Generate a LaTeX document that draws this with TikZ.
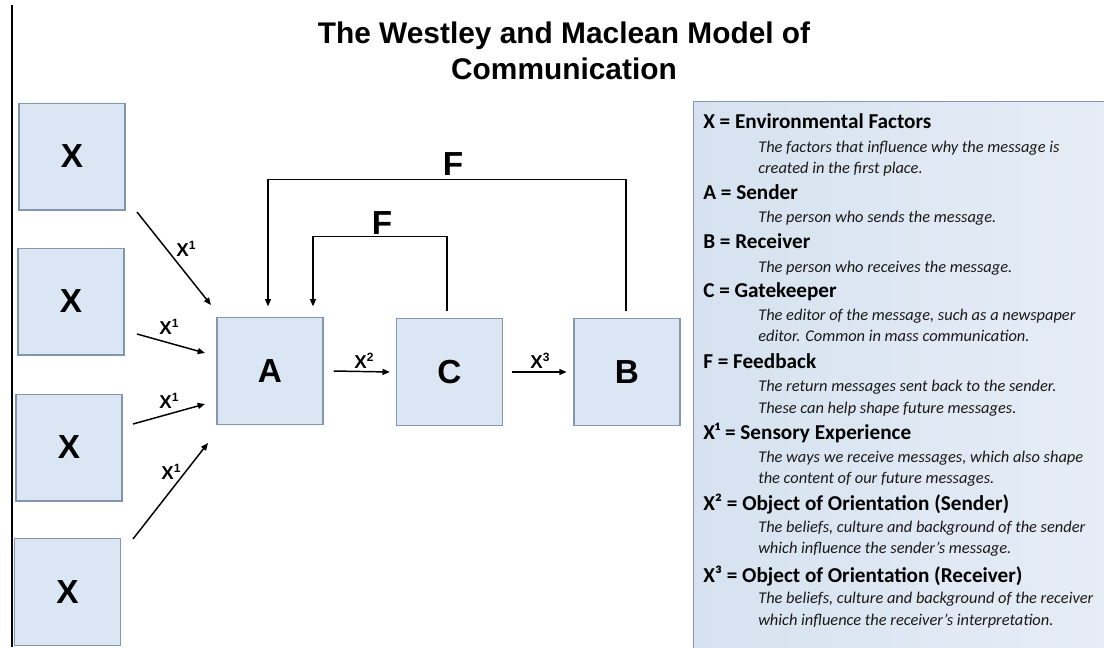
\documentclass[tikz,border=0pt]{standalone}
\usepackage{fontspec}
\setmainfont{Liberation Sans}
\newfontfamily\legfont{Carlito}
\usetikzlibrary{arrows.meta}
\definecolor{boxfill}{HTML}{DAE6F3}
\definecolor{boxline}{HTML}{8496AE}
\definecolor{legleft}{HTML}{D6E2F0}
\definecolor{legright}{HTML}{E6EDF6}
\newcommand{\supnum}[1]{\raisebox{0.75ex}{\fontsize{9}{9}\selectfont #1}}
\begin{document}
\begin{tikzpicture}[x=0.75pt,y=-0.75pt,
  box/.style={draw=boxline, line width=1pt, fill=boxfill, minimum width=79.5pt, minimum height=80pt, inner sep=0pt, font=\fontsize{25}{25}\selectfont\bfseries},
  arr/.style={-{Triangle[length=5.5pt,width=4.5pt]}, line width=1.1pt},
  lbl/.style={font=\fontsize{14}{14}\selectfont\bfseries, inner sep=0pt},
  big/.style={font=\fontsize{25}{25}\selectfont\bfseries, inner sep=0pt},
  hd/.style={anchor=base west, font=\legfont\fontsize{15.9}{16}\selectfont\bfseries, inner sep=0pt},
  it/.style={anchor=base west, font=\legfont\fontsize{12.3}{13}\selectfont\itshape, inner sep=0pt, text=black!90}]
\useasboundingbox (0,0) rectangle (1104,647);
\fill[white] (0,0) rectangle (1104,647);
% left rule
\draw[line width=2pt] (12,5) -- (12,647);
% title
\node[font=\fontsize{22.4}{24}\selectfont\bfseries, anchor=base, inner sep=0pt] (title1) at (564,43) {The Westley and Maclean Model of};
\node[font=\fontsize{22.4}{24}\selectfont\bfseries, anchor=base, inner sep=0pt] (title2) at (564,79) {Communication};
% boxes
\node[box] (x1) at (72,156.5) {X};
\node[box] (x2) at (71,301.5) {X};
\node[box] (x3) at (69,447.5) {X};
\node[box] (x4) at (67.5,592) {X};
\node[box] (A) at (270,371) {A};
\node[box] (C) at (449.5,372) {C};
\node[box] (B) at (627,372) {B};
% X1 arrows
\coordinate (s1) at (137,212); \coordinate (e1) at (211,305);
\coordinate (s2) at (137,334); \coordinate (e2) at (205,353);
\coordinate (s3) at (133,424); \coordinate (e3) at (205,404);
\coordinate (s4) at (133,539); \coordinate (e4) at (208,443);
\draw[arr] (s1) -- (e1);
\draw[arr] (s2) -- (e2);
\draw[arr] (s3) -- (e3);
\draw[arr] (s4) -- (e4);
\node[lbl] (l1) at (186,249) {X\supnum{1}};
\node[lbl] (l2) at (169,327) {X\supnum{1}};
\node[lbl] (l3) at (169,401) {X\supnum{1}};
\node[lbl] (l4) at (171,472) {X\supnum{1}};
% X2, X3
\draw[arr] ([xshift=7.5pt]A.east) -- ([xshift=-4.5pt]C.west);
\draw[arr] ([xshift=6.5pt]C.east) -- ([xshift=-5pt]B.west);
\node[lbl] (l5) at (364,361) {X\supnum{2}};
\node[lbl] (l6) at (540,361) {X\supnum{3}};
% feedback
\draw[arr] ([xshift=-0.75pt,yshift=5pt]B.north) -- ++(0,-132) -| ([xshift=-1.5pt,yshift=8pt]A.north);
\draw[arr] ([xshift=-1.9pt,yshift=5.5pt]C.north) -- ++(0,-74) -| ([xshift=32.25pt,yshift=8pt]A.north);
\node[big] (f1) at (453,164) {F};
\node[big] (f2) at (382,223) {F};
% legend
\node[draw=boxline, line width=1pt, left color=legleft, right color=legright, anchor=north west, minimum width=315pt, minimum height=420pt, inner sep=0pt] (legend) at (693,101) {};
\node[hd] (h1) at (703,128) {X = Environmental Factors};
\node[it] (t1) at (758,152) {The factors that influence why the message is};
\node[it] (t2) at (758,173) {created in the first place.};
\node[hd] (h2) at (703,199) {A = Sender};
\node[it] (t3) at (758,222) {The person who sends the message.};
\node[hd] (h3) at (703,248) {B = Receiver};
\node[it] (t4) at (758,272) {The person who receives the message.};
\node[hd] (h4) at (703,297) {C = Gatekeeper};
\node[it] (t5) at (758,320) {The editor of the message, such as a newspaper};
\node[it] (t6) at (758,341) {editor. Common in mass communication.};
\node[hd] (h5) at (703,368) {F = Feedback};
\node[it] (t7) at (758,391) {The return messages sent back to the sender.};
\node[it] (t8) at (758,413) {These can help shape future messages.};
\node[hd] (h6) at (703,439) {X¹ = Sensory Experience};
\node[it] (t9) at (758,462) {The ways we receive messages, which also shape};
\node[it] (t10) at (758,483) {the content of our future messages.};
\node[hd] (h7) at (703,510) {X² = Object of Orientation (Sender)};
\node[it] (t11) at (758,532) {The beliefs, culture and background of the sender};
\node[it] (t12) at (758,553) {which influence the sender’s message.};
\node[hd] (h8) at (703,582) {X³ = Object of Orientation (Receiver)};
\node[it] (t13) at (758,603) {The beliefs, culture and background of the receiver};
\node[it] (t14) at (758,625) {which influence the receiver’s interpretation.};
\end{tikzpicture}
\end{document}
